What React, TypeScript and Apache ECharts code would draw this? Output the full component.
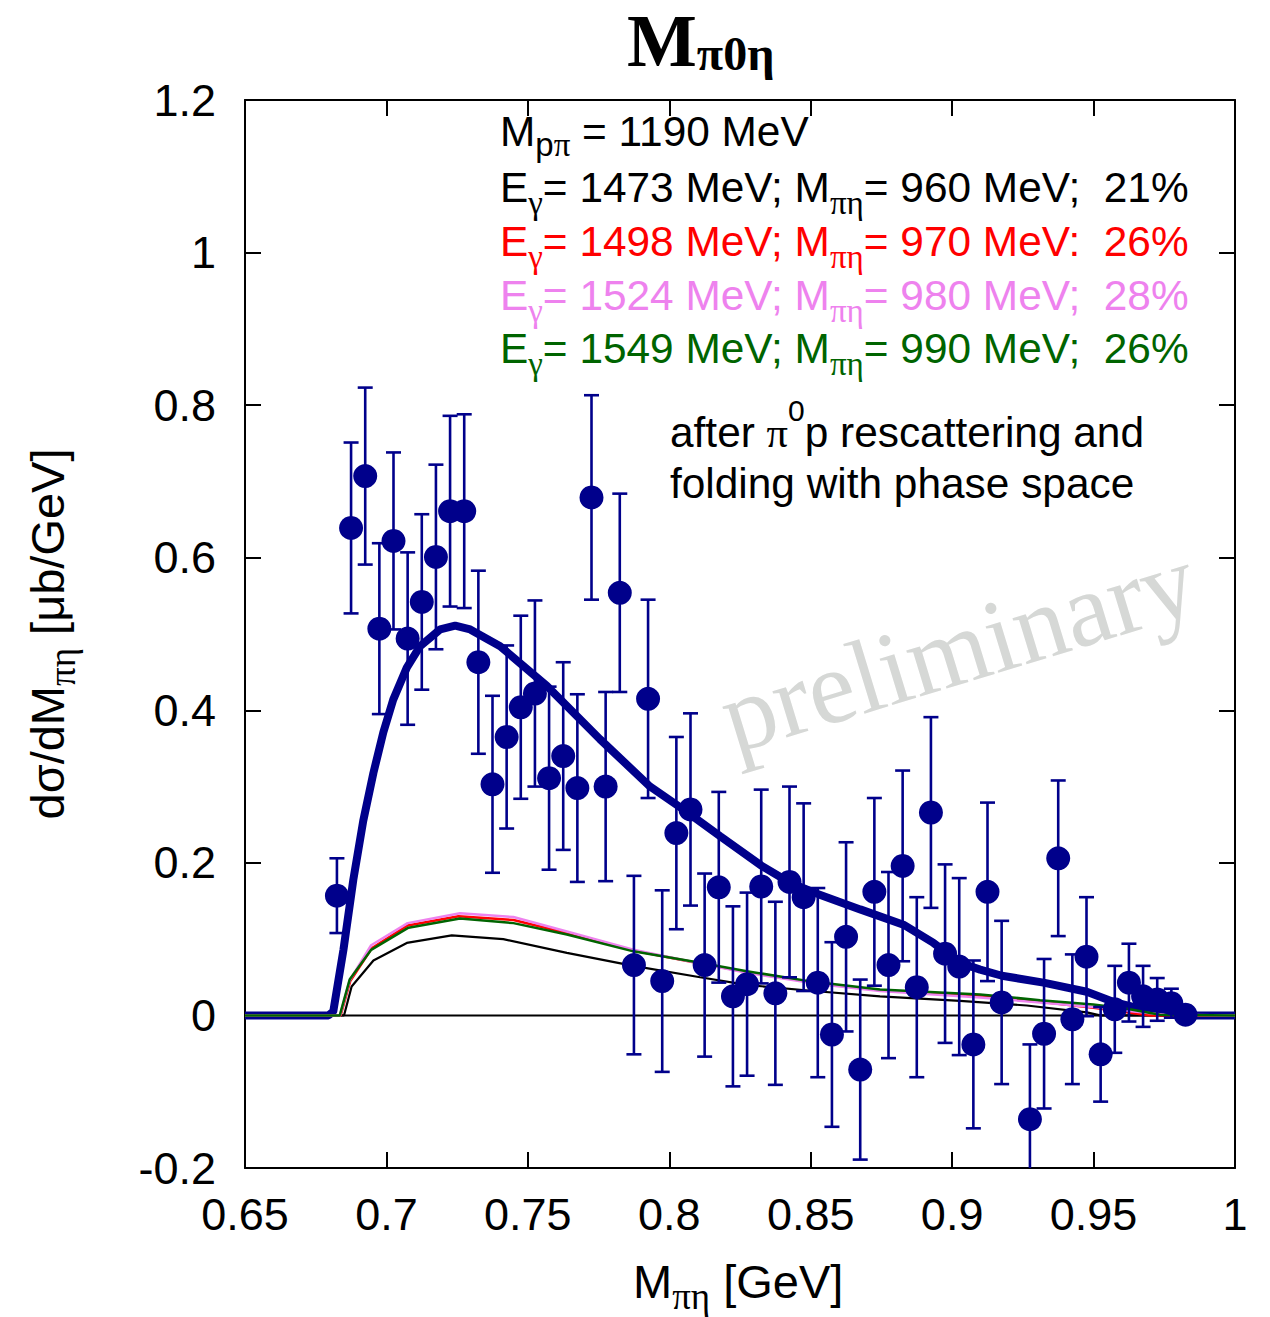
import { useEffect, useRef } from "react";
import * as echarts from "echarts";

const SANS = "'Liberation Sans', Arial, Helvetica, sans-serif";
const SERIF = "'Liberation Serif', 'Times New Roman', Times, serif";
const NAVY = "#00008b";
const BLACK = "#000000";
const RED = "#ff0000";
const VIOLET = "#ee82ee";
const GREEN = "#006400";

// axis ticks
const xMin = 0.65, xMax = 1.0, xStep = 0.05;
const yMin = -0.2, yMax = 1.2, yStep = 0.2;

// measured data points (bin centres, values, errors)
const dataX = [0.6825,0.6875,0.6925,0.6975,0.7025,0.7075,0.7125,0.7175,0.7225,0.7275,0.7325,0.7375,0.7425,0.7475,0.7525,0.7575,0.7625,0.7675,0.7725,0.7775,0.7825,0.7875,0.7925,0.7975,0.8025,0.8075,0.8125,0.8175,0.8225,0.8275,0.8325,0.8375,0.8425,0.8475,0.8525,0.8575,0.8625,0.8675,0.8725,0.8775,0.8825,0.8875,0.8925,0.8975,0.9025,0.9075,0.9125,0.9175,0.9275,0.9325,0.9375,0.9425,0.9475,0.9525,0.9575,0.9625,0.9675,0.9725,0.9775,0.9825];
const dataY = [0.157,0.639,0.707,0.507,0.622,0.494,0.542,0.601,0.661,0.661,0.463,0.303,0.365,0.404,0.422,0.311,0.340,0.298,0.679,0.300,0.554,0.066,0.415,0.045,0.239,0.270,0.066,0.168,0.025,0.041,0.169,0.029,0.175,0.155,0.043,-0.025,0.103,-0.071,0.162,0.066,0.196,0.037,0.266,0.081,0.064,-0.038,0.162,0.017,-0.136,-0.024,0.206,-0.005,0.077,-0.051,0.008,0.043,0.025,0.021,0.016,0.001];
const dataErr = [0.049,0.112,0.116,0.112,0.116,0.113,0.115,0.121,0.125,0.127,0.12,0.116,0.12,0.12,0.122,0.12,0.123,0.123,0.134,0.124,0.13,0.117,0.13,0.119,0.126,0.126,0.12,0.125,0.118,0.12,0.127,0.12,0.125,0.123,0.124,0.121,0.124,0.118,0.123,0.122,0.125,0.118,0.125,0.117,0.116,0.11,0.117,0.107,0.098,0.098,0.102,0.085,0.078,0.062,0.057,0.051,0.04,0.028,0.019,0.008];

// thick model curve
const thickX = [0.65,0.6795,0.6812,0.6848,0.6883,0.6918,0.6954,0.6989,0.7024,0.7072,0.7119,0.719,0.7243,0.7296,0.7402,0.7567,0.7755,0.7932,0.805,0.818,0.8327,0.8427,0.8527,0.8675,0.8828,0.8934,0.9028,0.9099,0.9176,0.9323,0.9476,0.9576,0.9676,0.9794,1.0];
const thickY = [0,0,0.005,0.086,0.178,0.255,0.318,0.371,0.414,0.456,0.484,0.506,0.511,0.506,0.484,0.432,0.362,0.300,0.270,0.235,0.196,0.174,0.159,0.139,0.119,0.095,0.069,0.060,0.052,0.043,0.031,0.017,0.008,0,0];

// thin curves
const blackX = [0.65,0.685,0.6877,0.6954,0.7072,0.7231,0.7413,0.7638,0.7873,0.8109,0.8274,0.851,0.8745,0.9028,0.9264,0.9476,0.9523,1.0];
const blackY = [0,0,0.038,0.072,0.095,0.105,0.100,0.082,0.065,0.050,0.040,0.032,0.025,0.019,0.013,0.004,0,0];
const redX = [0.65,0.6838,0.6872,0.6948,0.7075,0.7255,0.7449,0.7638,0.7873,0.8109,0.8274,0.851,0.8745,0.9099,0.9311,0.9499,0.9618,0.97,1.0];
const redY = [0,0,0.045,0.088,0.118,0.130,0.125,0.108,0.085,0.068,0.057,0.043,0.033,0.025,0.018,0.010,0.004,0,0];
const violetX = [0.65,0.6836,0.687,0.6946,0.7075,0.726,0.7449,0.7638,0.7873,0.8109,0.8274,0.851,0.8745,0.9099,0.9311,0.9499,0.9618,0.975,1.0];
const violetY = [0,0,0.046,0.092,0.121,0.134,0.129,0.110,0.086,0.068,0.056,0.042,0.032,0.0236,0.017,0.011,0.006,0.001,0];
const greenX = [0.65,0.6835,0.687,0.6946,0.7078,0.726,0.7449,0.7638,0.7873,0.8109,0.8274,0.851,0.8745,0.9099,0.9311,0.9499,0.9618,0.9735,1.0];
const greenY = [0,0,0.047,0.086,0.115,0.127,0.121,0.106,0.084,0.069,0.058,0.044,0.034,0.0275,0.020,0.0144,0.0087,0.001,0];

const zeroX = [0.65, 1.0];
const zeroY = [0, 0];

// legend texts
const legendRows = [
  { color: BLACK, y: 131, pad: 28, text: "{n|M}{ss|p}{s|π}{n| = 1190 MeV}" },
  { color: BLACK, y: 187, pad: 32, text: "{n|E}{s|γ}{n|= 1473 MeV; M}{s|πη}{n|= 960 MeV; \u00a021%}" },
  { color: RED, y: 241, pad: 32, text: "{n|E}{s|γ}{n|= 1498 MeV; M}{s|πη}{n|= 970 MeV: \u00a026%}" },
  { color: VIOLET, y: 295, pad: 32, text: "{n|E}{s|γ}{n|= 1524 MeV; M}{s|πη}{n|= 980 MeV; \u00a028%}" },
  { color: GREEN, y: 348, pad: 32, text: "{n|E}{s|γ}{n|= 1549 MeV; M}{s|πη}{n|= 990 MeV; \u00a026%}" },
];

const zip = (xs: number[], ys: number[]) => xs.map((x, i) => [x, ys[i]]);
const fmt = (v: number) => String(Math.round(v * 100) / 100);

function richStyle(color: string, size: number, subSize: number, subPad: number) {
  return {
    n: { fontSize: size, fontFamily: SANS, fill: color, lineHeight: 50 },
    g: { fontSize: size, fontFamily: SERIF, fill: color, lineHeight: 50 },
    s: { fontSize: subSize, fontFamily: SERIF, fill: color, lineHeight: 50, padding: [subPad, 0, 0, 0] },
    ss: { fontSize: subSize, fontFamily: SANS, fill: color, lineHeight: 50, padding: [subPad - 1, 0, 0, 0] },
    sup: { fontSize: 30, fontFamily: SANS, fill: color, lineHeight: 50, padding: [0, 0, 43, 0] },
  };
}

function textEl(x: number, y: number, text: string, color: string, size: number, subSize: number, subPad: number, extra: any = {}) {
  return {
    type: "text",
    x,
    y,
    z: 100,
    ...extra,
    style: {
      text,
      fill: color,
      fontSize: size,
      fontFamily: SANS,
      lineHeight: 50,
      align: extra.align || "left",
      textAlign: extra.align || "left",
      verticalAlign: "middle",
      textVerticalAlign: "middle",
      rich: richStyle(color, size, subSize, subPad),
    },
  };
}

export default function App() {
  const ref = useRef<HTMLDivElement>(null);

  useEffect(() => {
    document.body.style.margin = "0";
    if (!ref.current) return;
    const chart = echarts.init(ref.current, null, { renderer: "svg" });

    const axisCommon = {
      type: "value",
      axisLine: { show: true, onZero: false, lineStyle: { color: BLACK, width: 2 } },
      axisTick: { show: true, inside: true, length: 16, lineStyle: { color: BLACK, width: 2 } },
      splitLine: { show: false },
    };

    const legendGraphics = legendRows.map((r) =>
      textEl(500, r.y, r.text, r.color, 42.4, 33, r.pad)
    );

    const option: any = {
      animation: false,
      backgroundColor: "#ffffff",
      grid: { left: 245, top: 100, width: 990, height: 1068 },
      xAxis: [
        {
          ...axisCommon,
          min: xMin, max: xMax, interval: xStep, position: "bottom",
          axisLabel: { show: true, margin: 24, fontSize: 45, fontFamily: SANS, color: BLACK, formatter: fmt, showMinLabel: true, showMaxLabel: true },
        },
        {
          ...axisCommon,
          min: xMin, max: xMax, interval: xStep, position: "top",
          axisLabel: { show: false },
        },
      ],
      yAxis: [
        {
          ...axisCommon,
          min: yMin, max: yMax, interval: yStep, position: "left",
          axisLabel: { show: true, margin: 29, fontSize: 45, fontFamily: SANS, color: BLACK, formatter: fmt, showMinLabel: true, showMaxLabel: true },
        },
        {
          ...axisCommon,
          min: yMin, max: yMax, interval: yStep, position: "right",
          axisLabel: { show: false },
        },
      ],
      graphic: [
        {
          type: "text",
          x: 958,
          y: 648,
          rotation: (17 * Math.PI) / 180,
          z: -10,
          style: {
            text: "preliminary",
            fill: "#d6d8d6",
            fontSize: 105,
            fontFamily: SERIF,
            align: "center",
            textAlign: "center",
            verticalAlign: "middle",
            textVerticalAlign: "middle",
          },
        },
        {
          type: "text",
          x: 627,
          y: 41,
          z: 100,
          style: {
            text: "{m|M}{sb|π0η}",
            fill: BLACK,
            fontSize: 74,
            fontFamily: SERIF,
            fontWeight: "bold",
            lineHeight: 72,
            align: "left",
            textAlign: "left",
            verticalAlign: "middle",
            textVerticalAlign: "middle",
            rich: {
              m: { fontSize: 74, fontFamily: SERIF, fontWeight: "bold", fill: BLACK, lineHeight: 72 },
              sb: { fontSize: 48, fontFamily: SERIF, fontWeight: "bold", fill: BLACK, lineHeight: 72, padding: [24, 0, 0, 0] },
            },
          },
        },
        ...legendGraphics,
        textEl(670, 432, "{n|after }{g|π}{sup|0}{n|p rescattering and}", BLACK, 42.4, 33, 32),
        textEl(670, 483, "{n|folding with phase space}", BLACK, 42.4, 33, 32),
        textEl(633, 1281, "{n|M}{s|πη}{n| [GeV]}", BLACK, 47, 37, 30),
        textEl(47, 634, "{n|dσ/dM}{s|πη}{n| [μb/GeV]}", BLACK, 47, 37, 30, { rotation: Math.PI / 2, align: "center" }),
      ],
      series: [
        {
          type: "line", name: "model", data: zip(thickX, thickY), showSymbol: false, symbol: "none",
          lineStyle: { color: NAVY, width: 8 }, z: 2,
        },
        {
          type: "line", name: "zero", data: zip(zeroX, zeroY), showSymbol: false, symbol: "none",
          lineStyle: { color: BLACK, width: 2 }, z: 3,
        },
        {
          type: "line", name: "E1473", data: zip(blackX, blackY), showSymbol: false, symbol: "none",
          lineStyle: { color: BLACK, width: 2.2 }, z: 3,
        },
        {
          type: "line", name: "E1498", data: zip(redX, redY), showSymbol: false, symbol: "none",
          lineStyle: { color: RED, width: 2.5 }, z: 3,
        },
        {
          type: "line", name: "E1524", data: zip(violetX, violetY), showSymbol: false, symbol: "none",
          lineStyle: { color: VIOLET, width: 2.5 }, z: 3,
        },
        {
          type: "line", name: "E1549", data: zip(greenX, greenY), showSymbol: false, symbol: "none",
          lineStyle: { color: GREEN, width: 2.5 }, z: 3,
        },
        {
          type: "custom",
          name: "errors",
          clip: true,
          z: 4,
          data: dataX.map((x, i) => [x, dataY[i], dataErr[i]]),
          encode: { x: 0, y: 1 },
          renderItem: (_params: any, api: any) => {
            const x = api.value(0);
            const y = api.value(1);
            const e = api.value(2);
            const top = api.coord([x, y + e]);
            const bot = api.coord([x, y - e]);
            const cap = 7.5;
            const st = { stroke: NAVY, lineWidth: 2.6 };
            return {
              type: "group",
              children: [
                { type: "line", shape: { x1: top[0], y1: top[1], x2: bot[0], y2: bot[1] }, style: st },
                { type: "line", shape: { x1: top[0] - cap, y1: top[1], x2: top[0] + cap, y2: top[1] }, style: st },
                { type: "line", shape: { x1: bot[0] - cap, y1: bot[1], x2: bot[0] + cap, y2: bot[1] }, style: st },
              ],
            };
          },
        },
        {
          type: "scatter",
          name: "data",
          data: zip(dataX, dataY),
          symbol: "circle",
          symbolSize: 24,
          itemStyle: { color: NAVY, opacity: 1 },
          z: 5,
        },
      ],
    };

    chart.setOption(option);
    return () => chart.dispose();
  }, []);

  return (
    <div
      ref={ref}
      style={{ position: "absolute", left: 0, top: 0, width: 1270, height: 1317, background: "#fff" }}
    />
  );
}
